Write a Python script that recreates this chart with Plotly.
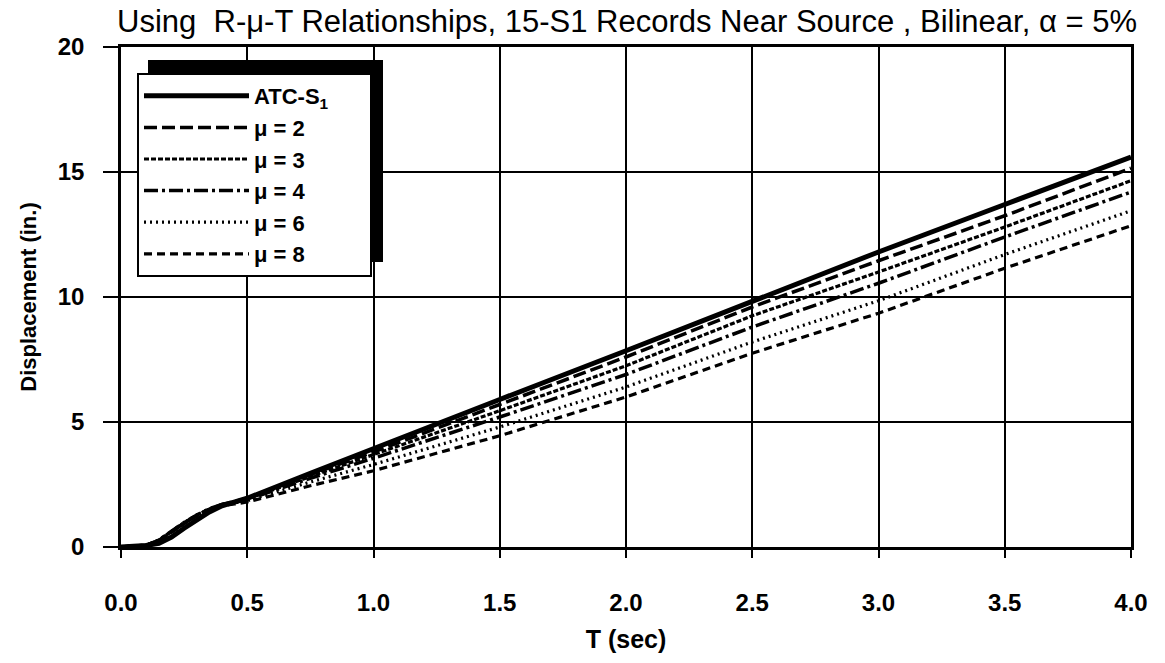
import plotly.graph_objects as go

# ---- data ----
T = [0, 0.05, 0.1, 0.15, 0.2, 0.25, 0.3, 0.35, 0.4, 0.45, 0.5, 0.75, 1.0, 1.5, 2.0, 2.5, 3.0, 3.5, 4.0]
atc = [0, 0.02, 0.06, 0.15, 0.40, 0.75, 1.10, 1.40, 1.65, 1.80, 1.95, 2.95, 3.95, 5.90, 7.85, 9.85, 11.80, 13.70, 15.60]
mu2 = [0, 0.02, 0.07, 0.25, 0.60, 0.95, 1.25, 1.50, 1.70, 1.82, 1.95, 2.90, 3.80, 5.70, 7.60, 9.60, 11.45, 13.25, 15.15]
mu3 = [0, 0.02, 0.07, 0.27, 0.62, 0.97, 1.27, 1.52, 1.70, 1.80, 1.92, 2.82, 3.70, 5.45, 7.25, 9.25, 11.00, 12.80, 14.65]
mu4 = [0, 0.02, 0.07, 0.28, 0.63, 0.98, 1.28, 1.53, 1.70, 1.80, 1.90, 2.75, 3.55, 5.20, 6.90, 8.80, 10.55, 12.40, 14.20]
mu6 = [0, 0.02, 0.07, 0.28, 0.63, 0.98, 1.28, 1.52, 1.68, 1.77, 1.85, 2.60, 3.30, 4.80, 6.40, 8.20, 9.85, 11.70, 13.45]
mu8 = [0, 0.02, 0.07, 0.27, 0.60, 0.95, 1.25, 1.50, 1.65, 1.72, 1.80, 2.45, 3.05, 4.45, 6.00, 7.75, 9.35, 11.15, 12.85]

names = ["ATC-S<sub>1</sub>" + "&nbsp;" * 6, "\u03bc = 2", "\u03bc = 3", "\u03bc = 4", "\u03bc = 6", "\u03bc = 8"]
series = [atc, mu2, mu3, mu4, mu6, mu8]
widths = [5, 3.5, 3.2, 3.5, 3.2, 3.2]
dashes = ["solid", "13px,5px", "5px,2px", "14px,4px,3px,4px", "2px,4px", "8px,5px"]

FONT = "Liberation Sans, Arial, Helvetica, sans-serif"

fig = go.Figure()
for name, ys, w, d in zip(names, series, widths, dashes):
    fig.add_trace(go.Scatter(x=T, y=ys, mode="lines", name=name,
                             line=dict(color="black", width=w, dash=d)))

# layout pixel geometry
L, R, TOP, BOT = 121, 34, 47, 116
W, H = 1165, 663
pw, ph = W - L - R, H - TOP - BOT

def px(x):
    return (x - L) / pw

def py(y):
    return (H - BOT - y) / ph

# legend shadow
fig.add_shape(type="rect", xref="paper", yref="paper",
              x0=px(148), x1=px(383), y0=py(262), y1=py(60),
              fillcolor="black", line=dict(width=0), layer="above")

fig.update_layout(
    width=W, height=H,
    margin=dict(l=L, r=R, t=TOP, b=BOT),
    paper_bgcolor="white", plot_bgcolor="white",
    font=dict(family=FONT, color="black"),
    title=dict(text="Using  R-\u03bc-T Relationships, 15-S1 Records Near Source , Bilinear, \u03b1 = 5%",
               xref="paper", x=px(627), xanchor="center", y=1 - 21 / H, yanchor="middle",
               font=dict(size=31, family=FONT)),
    showlegend=True,
    legend=dict(x=px(137), y=py(73), xanchor="left", yanchor="top",
                bgcolor="white", bordercolor="black", borderwidth=2,
                font=dict(size=22, family=FONT, weight="bold"), itemwidth=105,
                tracegroupgap=0),
    xaxis=dict(range=[0, 4], dtick=0.5, tick0=0, tickformat=".1f",
               showgrid=True, gridcolor="black", gridwidth=2,
               showline=True, linecolor="black", linewidth=2.5, mirror=True,
               ticks="outside", ticklen=8, tickwidth=2, tickcolor="black",
               ticklabelstandoff=24,
               tickfont=dict(size=24, family=FONT, weight="bold"),
               title=dict(text="<b>T (sec)</b>", font=dict(size=25, family=FONT), standoff=16),
               zeroline=False),
    yaxis=dict(range=[0, 20], dtick=5, tick0=0,
               showgrid=True, gridcolor="black", gridwidth=2,
               showline=True, linecolor="black", linewidth=2.5, mirror=True,
               ticks="outside", ticklen=15, tickwidth=2, tickcolor="black",
               ticklabelstandoff=14,
               tickfont=dict(size=24, family=FONT, weight="bold"),
               title=dict(text="<b>Displacement (in.)</b>", font=dict(size=22, family=FONT), standoff=16),
               zeroline=False),
)

fig.write_html("out.html")
